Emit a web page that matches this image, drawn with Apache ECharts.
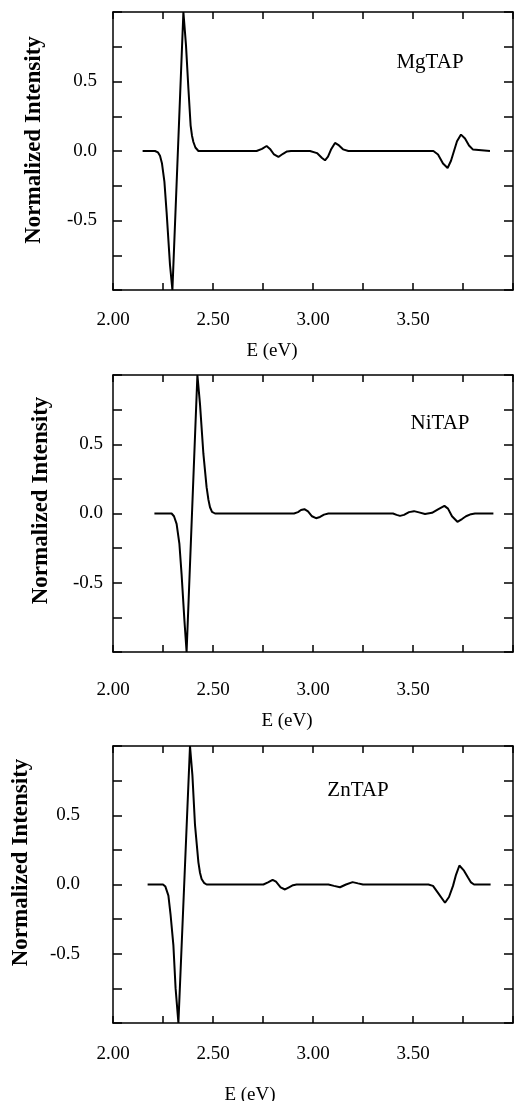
<!DOCTYPE html>
<html>
<head>
<meta charset="utf-8">
<script src="https://cdn.jsdelivr.net/npm/echarts@6/dist/echarts.min.js"></script>
<style>
html,body{margin:0;padding:0;background:#fff;}
#chart{width:515px;height:1101px;}
</style>
</head>
<body>
<div id="chart"></div>
<script>
// ---- Data (E in eV, normalized intensity) ----
const panelNames = ['MgTAP', 'NiTAP', 'ZnTAP'];

const mgtap = [[2.148,0],[2.21,0],[2.225,-0.01],[2.235,-0.035],[2.245,-0.09],[2.257,-0.22],[2.268,-0.44],[2.285,-0.82],[2.297,-1.0],
  [2.352,1.0],[2.365,0.76],[2.377,0.45],[2.388,0.185],[2.395,0.11],[2.402,0.065],[2.412,0.025],[2.427,0],
  [2.718,0],[2.745,0.015],[2.768,0.036],[2.785,0.015],[2.805,-0.025],[2.827,-0.043],[2.85,-0.02],[2.87,-0.003],[2.89,0],
  [2.985,0],[3.02,-0.015],[3.045,-0.05],[3.06,-0.067],[3.075,-0.04],[3.09,0.01],[3.11,0.058],[3.13,0.04],[3.15,0.012],[3.177,0],
  [3.602,0],[3.625,-0.025],[3.65,-0.09],[3.673,-0.122],[3.69,-0.07],[3.705,0.0],[3.72,0.07],[3.74,0.118],[3.76,0.09],[3.78,0.04],[3.8,0.01],[3.81,0],[3.885,0]];

const nitap = [[2.207,0],[2.293,0],[2.305,-0.02],[2.318,-0.075],[2.332,-0.22],[2.343,-0.44],[2.357,-0.77],[2.368,-1.0],
  [2.422,1.0],[2.435,0.79],[2.452,0.43],[2.468,0.19],[2.477,0.1],[2.485,0.045],[2.495,0.012],[2.51,0],
  [2.905,0],[2.925,0.01],[2.94,0.025],[2.957,0.031],[2.975,0.015],[2.995,-0.02],[3.015,-0.034],[3.035,-0.025],[3.055,-0.008],[3.077,0],
  [3.4,0],[3.418,-0.01],[3.435,-0.017],[3.455,-0.01],[3.48,0.01],[3.505,0.017],[3.53,0.008],[3.56,-0.003],[3.595,0.005],
  [3.625,0.03],[3.657,0.055],[3.675,0.035],[3.695,-0.02],[3.722,-0.06],[3.745,-0.04],[3.765,-0.02],[3.79,-0.005],[3.81,0],[3.902,0]];

const zntap = [[2.173,0],[2.25,0],[2.262,-0.015],[2.277,-0.08],[2.288,-0.22],[2.302,-0.44],[2.313,-0.75],[2.327,-1.0],
  [2.385,1.0],[2.397,0.79],[2.41,0.43],[2.427,0.16],[2.435,0.085],[2.443,0.04],[2.455,0.012],[2.468,0],
  [2.752,0],[2.775,0.015],[2.798,0.034],[2.815,0.02],[2.838,-0.02],[2.86,-0.036],[2.88,-0.02],[2.9,-0.005],[2.918,0],
  [3.077,0],[3.105,-0.01],[3.135,-0.02],[3.165,0.0],[3.198,0.017],[3.225,0.008],[3.25,0],
  [3.577,0],[3.6,-0.01],[3.625,-0.06],[3.66,-0.132],[3.68,-0.09],[3.7,-0.01],[3.715,0.07],[3.732,0.137],[3.755,0.1],[3.775,0.05],[3.79,0.015],[3.805,0],[3.888,0]];

const xTickLabels = ['2.00', '2.50', '3.00', '3.50'];
const yTickLabels = ['-0.5', '0.0', '0.5'];
const xTitle = 'E (eV)';
const yTitle = 'Normalized Intensity';

// ---- Layout ----
const FONT = 'Liberation Serif, Times New Roman, serif';
const panels = [
  {top: 12,  height: 278, data: mgtap, yLabelMargin: 16, xLabelMargin: 21, xNameGap: 52, xNamePad: 82, yNameGap: 67, yNamePad: 22, label: [430, 62]},
  {top: 375, height: 277, data: nitap, yLabelMargin: 10, xLabelMargin: 29, xNameGap: 60, xNamePad: 52, yNameGap: 60, yNamePad: 26, label: [440, 423]},
  {top: 746, height: 277, data: zntap, yLabelMargin: 33, xLabelMargin: 22, xNameGap: 63, xNamePad: 126, yNameGap: 80, yNamePad: 44, label: [358, 790]}
];

const grid = [], xAxis = [], yAxis = [], series = [], graphic = [];
const lineSt = {color: '#000', width: 1.5};

panels.forEach((p, i) => {
  grid.push({left: 113, width: 400, top: p.top, height: p.height, containLabel: false, outerBoundsMode: 'none'});
  const xBase = {
    type: 'value', gridIndex: i, min: 2, max: 4, interval: 0.25,
    axisLine: {show: true, onZero: false, lineStyle: lineSt},
    axisTick: {show: true, inside: true, length: 7, lineStyle: lineSt},
    splitLine: {show: false}
  };
  xAxis.push(Object.assign({}, xBase, {
    position: 'bottom',
    name: xTitle, nameLocation: 'middle', nameGap: p.xNameGap,
    nameTextStyle: {fontFamily: FONT, fontSize: 19, color: '#000', padding: [0, p.xNamePad, 0, 0]},
    axisLabel: {
      show: true, margin: p.xLabelMargin, fontFamily: FONT, fontSize: 19, color: '#000',
      formatter: v => { const s = v.toFixed(2); return xTickLabels.includes(s) ? s : ''; }
    }
  }));
  xAxis.push(Object.assign({}, xBase, {position: 'top', axisLabel: {show: false}}));
  const yBase = {
    type: 'value', gridIndex: i, min: -1, max: 1, interval: 0.25,
    axisLine: {show: true, onZero: false, lineStyle: lineSt},
    axisTick: {show: true, inside: true, length: 9, lineStyle: lineSt},
    splitLine: {show: false}
  };
  yAxis.push(Object.assign({}, yBase, {
    position: 'left',
    name: yTitle, nameLocation: 'middle', nameGap: p.yNameGap,
    nameTextStyle: {fontFamily: FONT, fontSize: 23, fontWeight: 'bold', color: '#000', padding: [0, 0, 0, p.yNamePad]},
    axisLabel: {
      show: true, margin: p.yLabelMargin, fontFamily: FONT, fontSize: 19, color: '#000',
      formatter: v => { const s = v.toFixed(1); return yTickLabels.includes(s) ? s : ''; }
    }
  }));
  yAxis.push(Object.assign({}, yBase, {position: 'right', axisLabel: {show: false}}));
  series.push({
    type: 'line', name: panelNames[i], xAxisIndex: 2 * i, yAxisIndex: 2 * i,
    data: p.data, showSymbol: false, symbol: 'none', smooth: false,
    lineStyle: {color: '#000', width: 2}, clip: true, silent: true
  });
  graphic.push({
    type: 'text', x: p.label[0], y: p.label[1],
    style: {text: panelNames[i], font: '21px ' + FONT, fill: '#000', textAlign: 'center', textVerticalAlign: 'middle'}
  });
});

const chart = echarts.init(document.getElementById('chart'), null, {renderer: 'canvas'});
chart.setOption({
  backgroundColor: '#fff',
  animation: false,
  grid, xAxis, yAxis, series, graphic
});
</script>
</body>
</html>
